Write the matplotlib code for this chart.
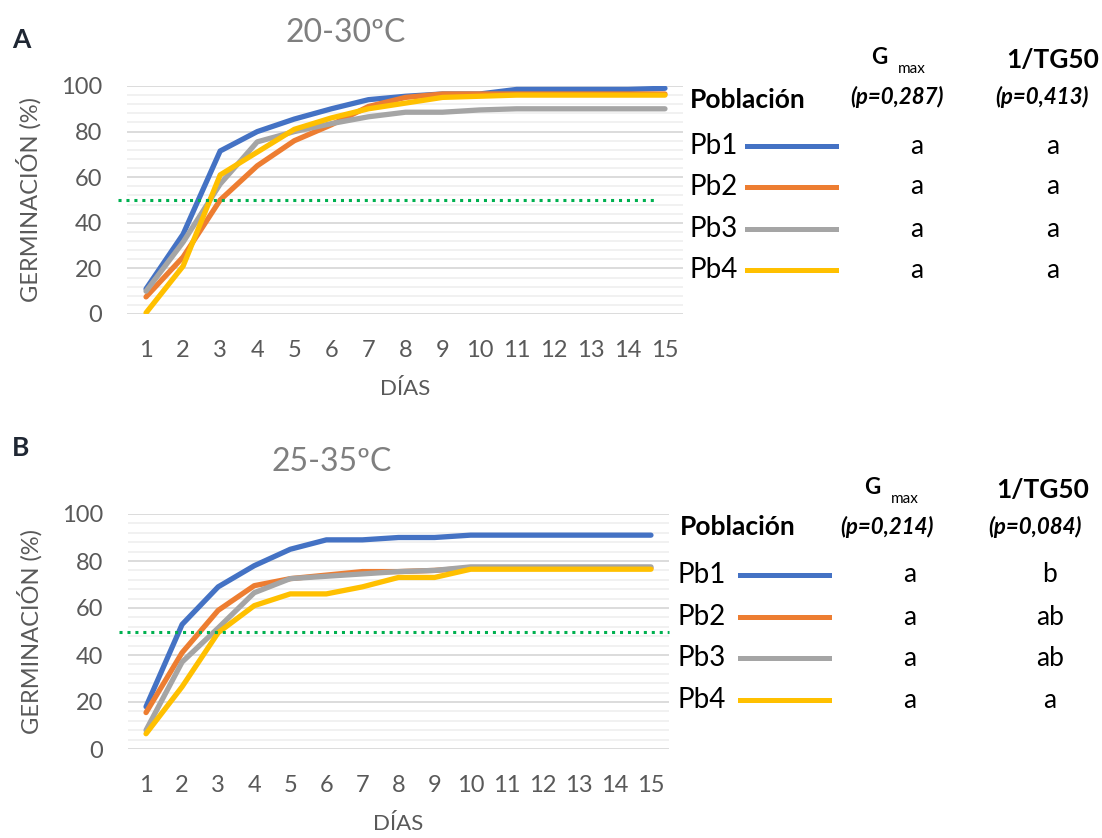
import numpy as np
import matplotlib
matplotlib.use("Agg")
import matplotlib.pyplot as plt
from matplotlib.lines import Line2D

plt.rcParams['font.family'] = ['Lato', 'DejaVu Sans']

# data
dias = list(range(1, 16))
poblaciones = ["Pb1", "Pb2", "Pb3", "Pb4"]
colores = ["#4472C4", "#ED7D31", "#A5A5A5", "#FFC000"]

pb1_a = [11, 35, 71.5, 80, 85.5, 90, 94, 95.5, 96.5, 96.5, 98.5, 98.5, 98.5, 98.5, 99]
pb2_a = [7.5, 25, 50, 65, 76, 83, 91, 95, 96.5, 96.5, 96.5, 96.5, 96.5, 96.5, 96.5]
pb3_a = [10, 31.5, 57, 75.5, 80, 83.5, 86.5, 88.5, 88.5, 89.5, 90, 90, 90, 90, 90]
pb4_a = [0.5, 21, 61, 71, 81, 86, 90, 92.5, 95, 95.5, 96, 96, 96, 96, 96]

pb1_b = [18, 53, 69, 78, 85, 89, 89, 90, 90, 91, 91, 91, 91, 91, 91]
pb2_b = [15.5, 41, 59, 69.5, 72.5, 74, 75.5, 75.5, 76, 77, 77, 77, 77, 77, 77]
pb3_b = [8, 37, 51.5, 66.5, 72.5, 73.5, 74.5, 75.5, 76, 77.5, 77.5, 77.5, 77.5, 77.5, 77.5]
pb4_b = [6.5, 26.5, 49.5, 61, 66, 66, 69, 73, 73, 76.5, 76.5, 76.5, 76.5, 76.5, 76.5]

umbral = 50
titulos = ["20-30ºC", "25-35ºC"]
letras_panel = ["A", "B"]
p_gmax = ["(p=0,287)", "(p=0,214)"]
p_tg50 = ["(p=0,413)", "(p=0,084)"]
letras_gmax = [["a", "a", "a", "a"], ["a", "a", "a", "a"]]
letras_tg50 = [["a", "a", "a", "a"], ["b", "ab", "ab", "a"]]

W, H = 1102, 838
fig = plt.figure(figsize=(W / 100, H / 100), dpi=100)


def fx(x):
    return x / W


def fy(y):
    return 1 - y / H


def panel(box, series, green_end, idx, title_xy):
    left, top, right, bottom = box
    ax = fig.add_axes([fx(left), fy(bottom), fx(right - left), (bottom - top) / H])
    ax.set_xlim(0.5, 15.5)
    ax.set_ylim(0, 100)
    for v in np.arange(4, 100, 4):
        if v % 20:
            ax.axhline(v, color="#F0F0F0", lw=1.3, zorder=0)
    for v in range(0, 101, 20):
        ax.axhline(v, color="#D9D9D9", lw=1.3, zorder=0)
    for vals, c in zip(series, colores):
        ax.plot(dias, vals, color=c, lw=3.8, solid_capstyle="round", zorder=3)
    # 50 % reference line
    ax.plot([0.25, green_end], [umbral, umbral], color="#00B050", lw=2.2,
            linestyle=(0, (1.0, 1.6)), zorder=4, clip_on=False)
    for s in ax.spines.values():
        s.set_visible(False)
    ax.set_xticks(dias)
    ax.set_yticks(range(0, 101, 20))
    ax.tick_params(length=0, labelsize=17, labelcolor="#595959")
    ax.tick_params(axis="y", pad=18)
    ax.tick_params(axis="x", pad=19)
    ax.set_xlabel("DÍAS", fontsize=16, color="#595959", labelpad=13)
    ax.set_ylabel("GERMINACIÓN (%)", fontsize=17, color="#595959", labelpad=14)
    fig.text(fx(title_xy[0]), fy(title_xy[1]), titulos[idx], fontsize=23,
             color="#7F7F7F", ha="center", va="center")
    return ax


ax_a = panel((127.5, 86, 683.5, 314), [pb1_a, pb2_a, pb3_a, pb4_a], 14.78, 0, (346, 33))
ax_b = panel((128, 514, 669, 749), [pb1_b, pb2_b, pb3_b, pb4_b], 15.5, 1, (332, 462))

fig.text(fx(12), fy(40), "A", fontsize=19, fontweight="bold", va="center", color="#1F2733")
fig.text(fx(12), fy(448), "B", fontsize=19, fontweight="bold", va="center", color="#1F2733")

# legend + letters tables
tablas = [
    dict(pob=(690, 100), rows=[146, 187, 229, 270], lab_x=690, line=(747, 836),
         c1=917, c2=1053, g=(871, 57), h2=(1053, 60), p1=897, p2=1042, py=97),
    dict(pob=(680, 527), rows=[575, 617, 658, 700], lab_x=677, line=(740, 829),
         c1=910, c2=1050, g=(864, 487), h2=(1043, 490), p1=887, p2=1035, py=527),
]
for k, t in enumerate(tablas):
    fig.text(fx(t["pob"][0]), fy(t["pob"][1]), "Población", fontsize=19,
             fontweight="bold", va="center", ha="left")
    gx, gy = t["g"]
    fig.text(fx(gx), fy(gy), "G", fontsize=16, fontweight="bold", va="center")
    fig.text(fx(gx + 27), fy(gy + 12), "max", fontsize=11, va="center")
    fig.text(fx(t["h2"][0]), fy(t["h2"][1]), "1/TG50", fontsize=19,
             fontweight="bold", va="center", ha="center")
    fig.text(fx(t["p1"]), fy(t["py"]), p_gmax[k], fontsize=16, fontweight="bold",
             style="italic", va="center", ha="center")
    fig.text(fx(t["p2"]), fy(t["py"]), p_tg50[k], fontsize=16, fontweight="bold",
             style="italic", va="center", ha="center")
    for i, y in enumerate(t["rows"]):
        fig.text(fx(t["lab_x"]), fy(y), poblaciones[i], fontsize=20, va="center")
        fig.add_artist(Line2D([fx(t["line"][0]), fx(t["line"][1])], [fy(y), fy(y)],
                              color=colores[i], lw=3.6))
        fig.text(fx(t["c1"]), fy(y), letras_gmax[k][i], fontsize=19, va="center", ha="center")
        fig.text(fx(t["c2"]), fy(y), letras_tg50[k][i], fontsize=19, va="center", ha="center")

fig.savefig("out.png", dpi=100)
